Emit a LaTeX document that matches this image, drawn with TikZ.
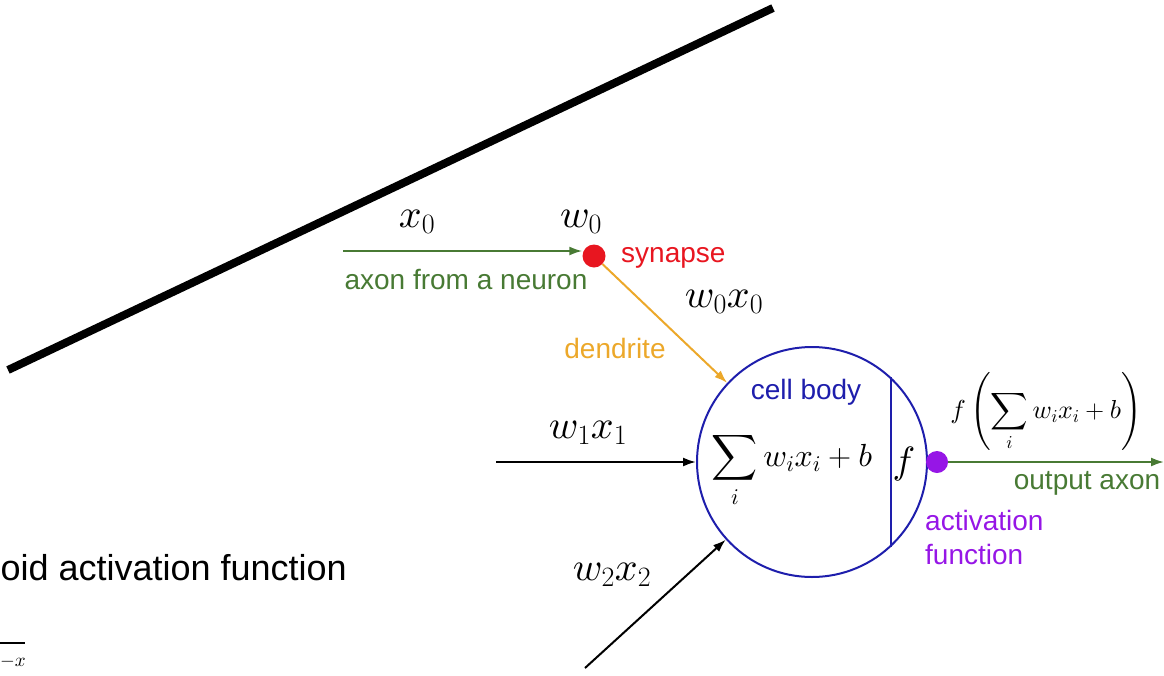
\RequirePackage{fix-cm}
\documentclass[tikz,border=0pt]{standalone}
\usepackage{amsmath}
\usepackage{fontspec}
\setsansfont{Liberation Sans}
\usepackage{tikz}
\usetikzlibrary{arrows.meta, positioning, calc}
\DeclareFontShape{OML}{cmm}{m}{it}{<-> cmmi10}{}
\DeclareFontShape{OMX}{cmex}{m}{n}{<-> cmex10}{}
\definecolor{axongreen}{RGB}{72, 122, 52}
\definecolor{synred}{RGB}{232, 22, 32}
\definecolor{dendorange}{RGB}{236, 168, 42}
\definecolor{cellblue}{RGB}{30, 30, 172}
\definecolor{actpurple}{RGB}{150, 22, 230}

\begin{document}
\begin{tikzpicture}[x=1pt, y=-1pt, >={Latex[length=13pt, width=9pt]},
    sans/.style={font=\sffamily\fontsize{28}{34}\selectfont, inner sep=0pt},
    mathlbl/.style={font=\fontsize{40}{44}\selectfont, inner sep=0pt},
    dot/.style={circle, inner sep=0pt, minimum size=23pt},
    arrow/.style={line width=2pt, ->}]
    \useasboundingbox (0,0) rectangle (1164,675);

    % Slide leftovers
    \draw[line width=8pt] (8,370) -- (773,8);
    \node[anchor=base east, font=\sffamily\fontsize{36}{40}\selectfont, inner sep=0pt] (sigtext) at (347,580) {oid activation function};
    \draw[line width=1.5pt] (0,643) -- (25,643);
    \node[anchor=base west, font=\fontsize{19}{22}\selectfont, inner sep=0pt] (expo) at (0,666) {$-x$};

    % Synapse
    \node[dot, fill=synred] (syn) at (594,256) {};
    \coordinate (axin) at (343,251);
    \node[mathlbl] (xzero) at (417,222) {$x_0$};
    \node[mathlbl] (wzero) at (581,222) {$w_0$};
    \node[sans, text=synred, anchor=west] (synlbl) at (621,258) {synapse};
    \node[sans, text=axongreen] (axonlbl) at (466,279) {axon from a neuron};

    % Cell body
    \node[circle, draw=cellblue, line width=2pt, minimum size=230pt, inner sep=0pt] (cell) at (812,462) {};
    \draw[cellblue, line width=2pt] (cell.47) -- (cell.-47);
    \node[sans, text=cellblue] (celllbl) at (806,392) {cell body};
    \node[font=\fontsize{32}{36}\selectfont, inner sep=0pt] (sumlbl) at (792,470) {$\displaystyle\sum_i w_ix_i+b$};
    \node[font=\fontsize{38}{40}\selectfont, inner sep=0pt] (flbl) at (904,464) {$f$};

    % Activation and output
    \node[dot, fill=actpurple, minimum size=22pt] (act) at (937,462) {};
    \coordinate (axout) at (1164,462);
    \node[sans, text=axongreen] (outlbl) at (1087,483) {output axon};
    \node[sans, text=actpurple, align=left, anchor=north west] (actlbl) at (925,510) {activation\\function};
    \node[font=\fontsize{26}{30}\selectfont, inner sep=0pt] (outexpr) at (1046,412) {$f\left(\displaystyle\sum_i w_ix_i+b\right)$};

    % Inputs
    \node[mathlbl] (wxzero) at (724,302) {$w_0x_0$};
    \node[sans, text=dendorange] (dendlbl) at (615,348) {dendrite};
    \coordinate (inone) at (496,462);
    \node[mathlbl] (wxone) at (588,433) {$w_1x_1$};
    \coordinate (intwo) at (585,668);
    \node[mathlbl] (wxtwo) at (612,575) {$w_2x_2$};

    % Connections
    \draw[arrow, axongreen] (axin) -- (axin -| syn.west);
    \draw[arrow, dendorange] (syn) -- (cell.137);
    \draw[arrow] (inone) -- (cell.west);
    \draw[arrow] (intwo) -- (cell.222);
    \draw[arrow, axongreen] (act) -- (axout);
\end{tikzpicture}
\end{document}
